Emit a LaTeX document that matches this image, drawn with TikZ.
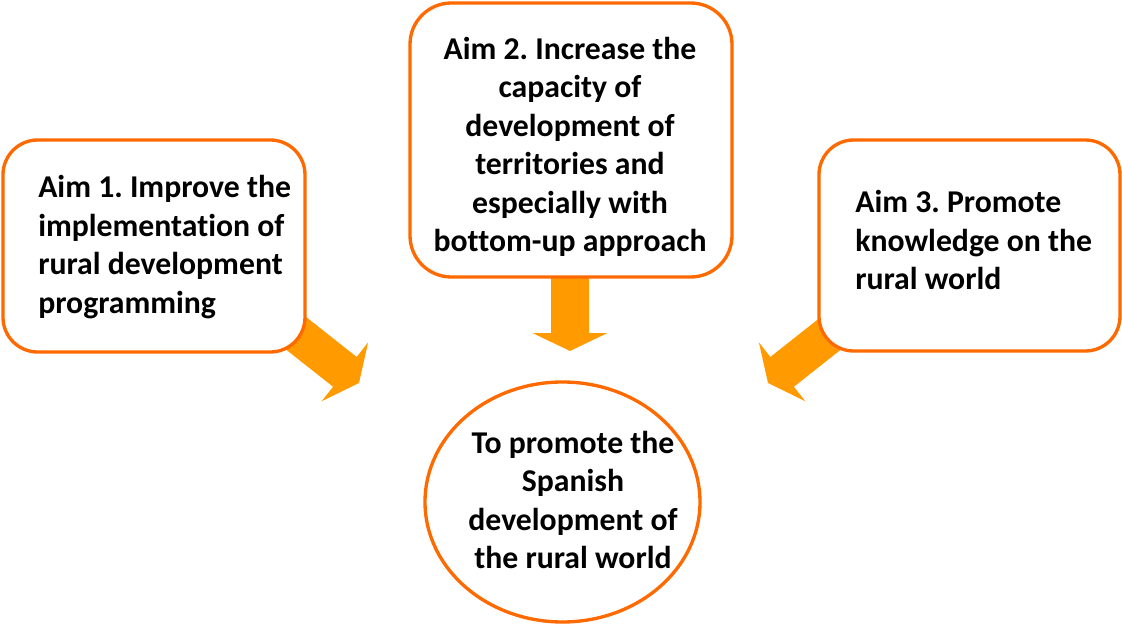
\documentclass[tikz,border=0pt]{standalone}
\usepackage{fontspec}
\setmainfont[Ligatures=NoCommon]{Carlito}
\frenchspacing
\definecolor{bordorange}{RGB}{255,106,0}
\definecolor{arroworange}{RGB}{255,155,0}
\usetikzlibrary{shapes.geometric}
\tikzset{
  aimbox/.style={draw=bordorange, line width=2.5pt, fill=white, rounded corners=26pt, inner sep=0pt},
  goalshape/.style={draw=bordorange, line width=2.5pt, fill=white, ellipse, inner sep=0pt},
  aimtext/.style={inner sep=0pt, font=\fontsize{23.8}{28.9}\selectfont\bfseries},
  blockarrow/.style={fill=arroworange, draw=none}
}
\newcommand{\myblockarrow}[2]{%
  \begin{scope}[shift={#1}, rotate=#2]
    \fill[blockarrow] (0,0) -- (-18,-37.5) -- (-18,-19) -- (-100,-19) -- (-100,19) -- (-18,19) -- (-18,37.5) -- cycle;
  \end{scope}}
\begin{document}
\begin{tikzpicture}[x=0.75pt, y=-0.75pt]
\useasboundingbox (0,0) rectangle (1122,624);
% arrow tips (free ends)
\coordinate (tip1) at (359,383);
\coordinate (tip2) at (570,351);
\coordinate (tip3) at (768,383);
% arrows drawn first, boxes cover their tails
\myblockarrow{(tip1)}{-38.3}
\myblockarrow{(tip2)}{-90}
\myblockarrow{(tip3)}{-141.7}
% boxes
\node[aimbox, minimum width=302*0.75pt, minimum height=212*0.75pt] (aim1) at (154,246) {};
\node[aimbox, rounded corners=31pt, minimum width=322*0.75pt, minimum height=274*0.75pt] (aim2) at (571,140) {};
\node[aimbox, minimum width=301*0.75pt, minimum height=211*0.75pt] (aim3) at (969.5,245.5) {};
\node[goalshape, minimum width=275*0.75pt, minimum height=240*0.75pt] (goal) at (562.5,502) {};
% texts
\node[aimtext, align=left, anchor=west] (aim1text) at (38,247) {Aim 1. Improve the\\implementation of\\rural development\\programming};
\node[aimtext, align=center] (aim2text) at (570,147) {Aim 2. Increase the\\capacity of\\development of\\territories and\\especially with\\bottom-up approach};
\node[aimtext, align=left, anchor=west] (aim3text) at (855,240) {Aim 3. Promote\\knowledge on the\\rural world};
\node[aimtext, align=center] (goaltext) at (573,500) {To promote the\\Spanish\\development of\\the rural world};
\end{tikzpicture}
\end{document}
